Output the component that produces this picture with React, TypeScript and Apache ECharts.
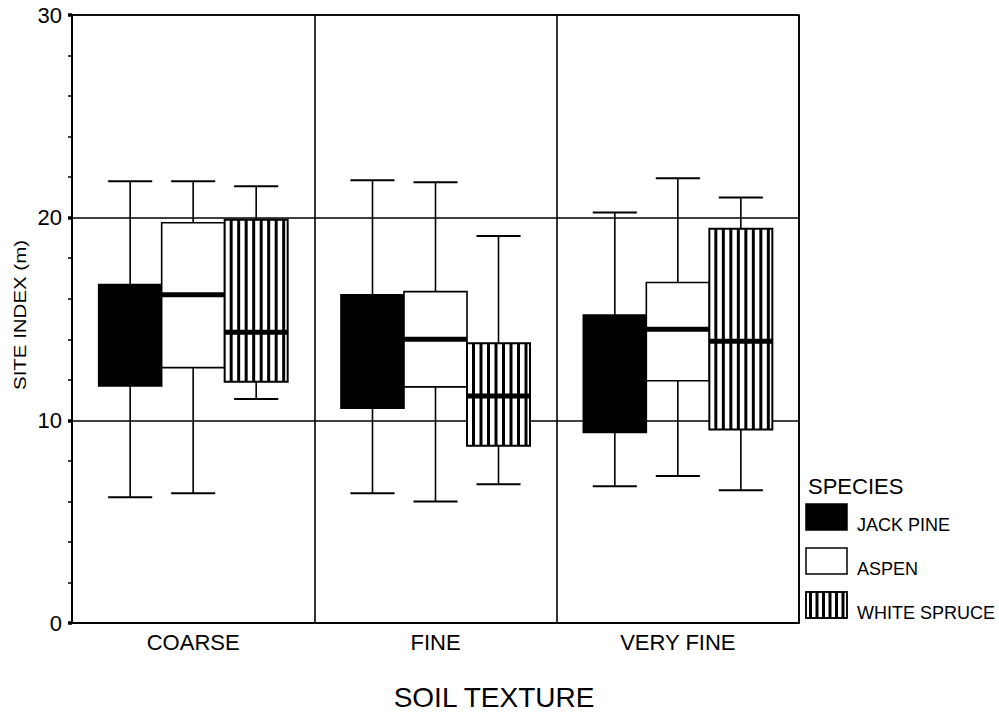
import React, { useEffect, useRef } from 'react';
import * as echarts from 'echarts';

// ---------- data ----------
const categories = ['COARSE', 'FINE', 'VERY FINE'];
const species = ['JACK PINE', 'ASPEN', 'WHITE SPRUCE'];
// each row: [min, Q1, median, Q3, max] for COARSE, FINE, VERY FINE
const jackPine = [
  [6.2, 11.7, 14.0, 16.7, 21.8],
  [6.4, 10.6, 13.4, 16.2, 21.85],
  [6.75, 9.4, 12.3, 15.2, 20.25],
];
const aspen = [
  [6.4, 12.6, 16.2, 19.75, 21.8],
  [6.0, 11.65, 14.0, 16.35, 21.75],
  [7.25, 11.95, 14.5, 16.8, 21.95],
];
const whiteSpruce = [
  [11.05, 11.9, 14.35, 19.9, 21.55],
  [6.85, 8.75, 11.2, 13.8, 19.1],
  [6.55, 9.55, 13.9, 19.45, 21.0],
];
const yMin = 0;
const yMax = 30;
const yInterval = 10;
const yTitle = 'SITE INDEX (m)';
const xTitle = 'SOIL TEXTURE';
const legendTitle = 'SPECIES';

// ---------- styles ----------
const FONT = '"Liberation Sans", Arial, Helvetica, sans-serif';
const fills = ['#000', '#fff', 'stripes'];
const BOX_FRACTION = 0.26;

function stripeRects(x0: number, y0: number, w: number, h: number, start: number, period: number, sw: number) {
  const out: any[] = [];
  for (let x = x0 + start; x + sw <= x0 + w - 1; x += period) {
    out.push({ type: 'rect', shape: { x, y: y0, width: sw, height: h }, style: { fill: '#000' } });
  }
  return out;
}

function makeRender(sIdx: number) {
  return (params: any, api: any) => {
    const ci = api.value(0);
    const cx0 = api.coord([ci, 0])[0];
    const band = api.size([1, 0])[0];
    const w = band * BOX_FRACTION;
    const cx = cx0 + (sIdx - 1) * w;
    const yy = (k: number) => api.coord([ci, api.value(k)])[1];
    const yLow = yy(1), yQ1 = yy(2), yMed = yy(3), yQ3 = yy(4), yHigh = yy(5);
    const capW = w * 0.7;
    const line = { stroke: '#000', lineWidth: 1.6 };
    const cap = { stroke: '#000', lineWidth: 2 };
    const left = cx - w / 2;
    const children: any[] = [
      { type: 'line', shape: { x1: cx, y1: yLow, x2: cx, y2: yQ1 }, style: line },
      { type: 'line', shape: { x1: cx, y1: yQ3, x2: cx, y2: yHigh }, style: line },
      { type: 'line', shape: { x1: cx - capW / 2, y1: yLow, x2: cx + capW / 2, y2: yLow }, style: cap },
      { type: 'line', shape: { x1: cx - capW / 2, y1: yHigh, x2: cx + capW / 2, y2: yHigh }, style: cap },
    ];
    const fill = fills[sIdx];
    children.push({
      type: 'rect',
      shape: { x: left, y: yQ3, width: w, height: yQ1 - yQ3 },
      style: { fill: fill === 'stripes' ? '#fff' : fill },
    });
    if (fill === 'stripes') {
      children.push(...stripeRects(left, yQ3, w, yQ1 - yQ3, 5, 7.5, 3));
    }
    children.push({
      type: 'rect',
      shape: { x: left, y: yQ3, width: w, height: yQ1 - yQ3 },
      style: { fill: 'none', stroke: '#000', lineWidth: fill === 'stripes' ? 2 : 1.6 },
    });
    children.push({
      type: 'line',
      shape: { x1: left, y1: yMed, x2: left + w, y2: yMed },
      style: { stroke: '#000', lineWidth: 5 },
    });
    return { type: 'group', children };
  };
}

const seriesData = [jackPine, aspen, whiteSpruce];

function buildLegend() {
  const els: any[] = [
    {
      type: 'text',
      x: 808,
      y: 486,
      style: { text: legendTitle, fontSize: 22, fontFamily: FONT, fill: '#000', align: 'left', verticalAlign: 'middle' },
    },
  ];
  species.forEach((name, i) => {
    const top = 504 + i * 44;
    const fill = fills[i];
    els.push({
      type: 'rect',
      shape: { x: 806, y: top, width: 41, height: 26 },
      style: { fill: fill === 'stripes' ? '#fff' : fill, stroke: '#000', lineWidth: 1.5 },
    });
    if (fill === 'stripes') {
      stripeRects(806, top, 41, 26, 3, 6.5, 3).forEach((r) => els.push(r));
      els.push({
        type: 'rect',
        shape: { x: 806, y: top, width: 41, height: 26 },
        style: { fill: 'none', stroke: '#000', lineWidth: 1.5 },
      });
    }
    els.push({
      type: 'text',
      x: 857,
      y: top + 21,
      style: { text: name, fontSize: 18, fontFamily: FONT, fill: '#000', align: 'left', verticalAlign: 'middle' },
    });
  });
  return els;
}

export default function App() {
  const ref = useRef<HTMLDivElement>(null);
  useEffect(() => {
    const chart = echarts.init(ref.current as HTMLDivElement, null, { renderer: 'svg' });
    const option: any = {
      animation: false,
      backgroundColor: '#fff',
      grid: { left: 72, right: 200, top: 15, bottom: 90, show: true, borderColor: '#000', borderWidth: 1.6 },
      xAxis: {
        type: 'category',
        data: categories,
        boundaryGap: true,
        axisLine: { show: true, lineStyle: { color: '#000', width: 1.6 } },
        axisTick: { show: false },
        axisLabel: { interval: 0, color: '#000', fontSize: 22, fontFamily: FONT, margin: 8 },
        splitLine: { show: true, interval: 0, lineStyle: { color: '#000', width: 1.6 } },
      },
      yAxis: {
        type: 'value',
        min: yMin,
        max: yMax,
        interval: yInterval,
        axisLine: { show: true, lineStyle: { color: '#000', width: 1.6 } },
        axisTick: { show: true, length: 4, lineStyle: { color: '#000', width: 3.5 } },
        minorTick: { show: true, splitNumber: 5, length: 4, lineStyle: { color: '#000', width: 1.5 } },
        splitLine: { show: true, lineStyle: { color: '#000', width: 1.6 } },
        axisLabel: { color: '#000', fontSize: 22, fontFamily: FONT, margin: 10 },
      },
      series: species.map((name, sIdx) => ({
        type: 'custom',
        name,
        data: seriesData[sIdx].map((v, ci) => [ci, ...v]),
        encode: { x: 0, y: [1, 2, 3, 4, 5] },
        renderItem: makeRender(sIdx),
        z: 3,
      })),
      graphic: [
        {
          type: 'text',
          x: 20,
          y: 315,
          rotation: Math.PI / 2,
          scaleX: 1.28,
          style: { text: yTitle, fontSize: 16, fontFamily: FONT, fill: '#000', align: 'center', verticalAlign: 'middle' },
        },
        {
          type: 'text',
          x: 494,
          y: 697,
          style: { text: xTitle, fontSize: 28, fontFamily: FONT, fill: '#000', align: 'center', verticalAlign: 'middle' },
        },
        ...buildLegend(),
      ],
    };
    chart.setOption(option);
    return () => chart.dispose();
  }, []);
  return (
    <div
      ref={ref}
      style={{ position: 'fixed', left: 0, top: 0, width: 999, height: 713, background: '#fff' }}
    />
  );
}
